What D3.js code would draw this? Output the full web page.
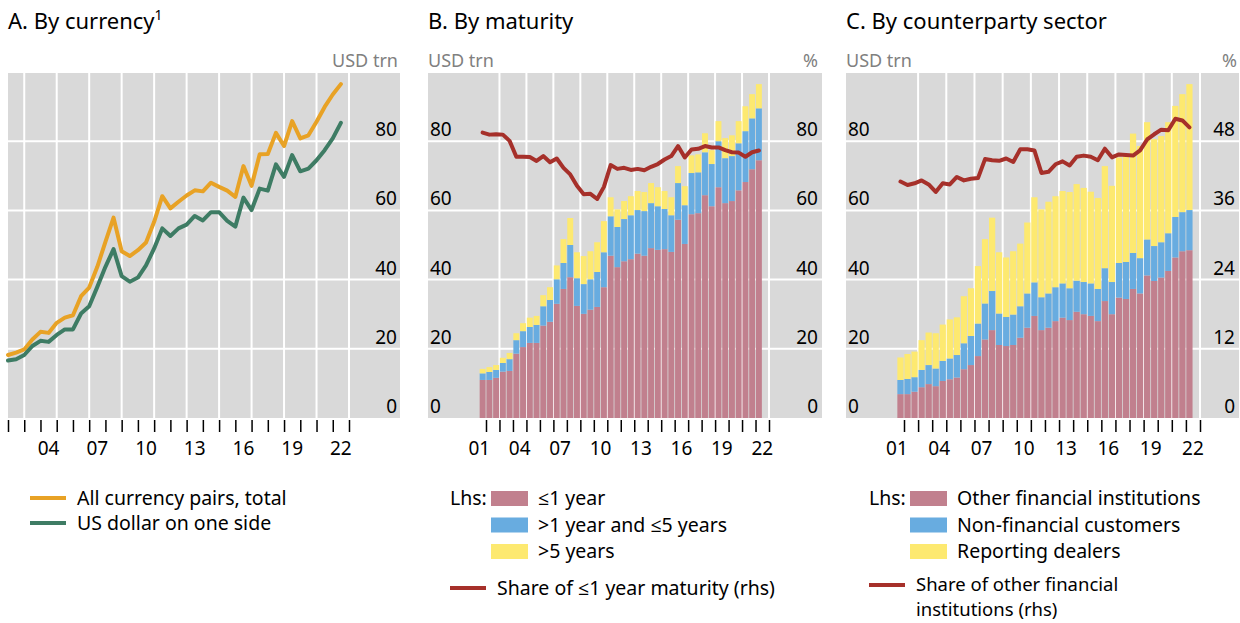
<!DOCTYPE html>
<html>
<head>
<meta charset="utf-8">
<script src="https://cdn.jsdelivr.net/npm/d3@7"></script>
<style>
  body { margin: 0; background: #fff; }
  svg { display: block; font-family: "Noto Sans", "Open Sans", sans-serif; }
  .tick-lbl { font-size: 19px; fill: #000; }
  .unit { font-size: 18px; fill: #808080; }
  .title { font-size: 22px; fill: #000; }
  .leg { font-size: 19.5px; fill: #000; }
</style>
</head>
<body>
<div id="chart"></div>
<script>
// half-yearly survey dates, end-Dec 2001 .. end-Jun 2022
var periods = ["2001-12","2002-06","2002-12","2003-06","2003-12","2004-06","2004-12","2005-06","2005-12","2006-06",
  "2006-12","2007-06","2007-12","2008-06","2008-12","2009-06","2009-12","2010-06","2010-12","2011-06",
  "2011-12","2012-06","2012-12","2013-06","2013-12","2014-06","2014-12","2015-06","2015-12","2016-06",
  "2016-12","2017-06","2017-12","2018-06","2018-12","2019-06","2019-12","2020-06","2020-12","2021-06",
  "2021-12","2022-06"];

// A. by currency, USD trn
var allPairs = [18.2,18.9,19.8,22.7,24.9,24.6,27.5,29.0,29.7,35.2,37.7,43.7,50.9,57.9,48.2,46.8,48.5,50.7,56.7,64.1,
  60.6,62.5,64.3,65.8,65.5,68.0,66.8,65.7,63.9,72.8,67.1,76.2,76.3,82.4,78.6,85.8,80.8,81.7,85.6,89.9,93.5,96.5];
var usdOneSide = [16.6,17.0,18.2,20.8,22.3,22.0,24.0,25.6,25.6,30.2,32.3,37.9,43.7,48.8,41.0,39.4,40.6,44.1,49.0,54.8,
  52.6,54.8,55.9,58.4,57.1,59.5,59.5,57.0,55.3,63.7,60.1,66.3,65.7,73.3,69.7,76.0,71.3,72.1,74.5,77.4,80.8,85.3];

// B. by maturity, USD trn (lhs) and % (rhs)
var matUpTo1 = [11.0,11.0,11.6,13.4,13.6,18.6,20.5,21.7,21.7,26.7,27.8,33.0,37.3,40.7,32.4,30.1,31.3,32.1,37.8,46.9,
  43.6,45.3,45.9,47.5,46.9,49.1,48.6,48.8,48.0,57.3,50.3,58.9,59.2,64.4,61.2,66.7,62.1,62.7,65.8,68.2,71.9,74.5];
var mat1to5 = [1.9,2.3,2.3,2.5,3.4,3.9,4.6,4.6,5.2,5.6,6.3,7.1,7.5,9.3,8.0,8.6,8.8,10.1,10.1,11.4,
  11.6,12.2,12.7,12.6,12.9,13.0,12.6,11.6,10.6,10.6,11.2,11.9,11.8,12.4,12.2,13.3,13.0,13.0,13.6,14.7,14.7,15.0];
var matOver5 = [1.3,1.4,1.4,1.5,1.8,2.0,2.3,2.7,2.6,3.2,3.7,4.0,6.9,7.8,7.5,8.1,8.1,8.6,9.0,5.5,
  5.1,5.2,5.5,5.5,5.5,5.8,5.5,5.2,5.2,4.9,5.5,5.1,5.2,5.5,4.0,5.8,5.8,6.0,6.4,7.2,7.0,7.0];
var shareUpTo1 = [82.5,81.9,82.0,81.9,80.1,75.5,75.5,75.4,74.3,75.7,73.9,75.0,72.3,70.4,67.1,64.7,64.8,63.3,66.8,73.1,
  72.0,72.3,71.7,72.0,71.6,72.6,73.4,74.7,75.7,78.6,75.3,77.6,77.8,78.6,78.2,78.2,77.4,76.8,76.7,75.5,76.8,77.3];

// C. by counterparty sector, USD trn (lhs) and % (rhs)
var cpOtherFin = [6.9,6.9,7.6,8.9,9.8,9.2,10.7,11.2,11.7,14.1,15.3,17.9,22.7,25.4,21.1,20.8,21.1,23.2,26.1,29.5,
  25.4,26.1,28.0,29.0,28.3,30.7,30.0,29.5,28.0,33.8,30.0,34.8,34.4,37.3,36.0,41.2,39.6,40.6,42.5,46.4,48.2,48.5];
var cpNonFin = [4.1,4.4,4.2,5.0,5.5,5.1,5.8,6.0,6.5,7.5,8.4,9.4,10.4,11.3,9.1,8.4,8.8,9.1,9.9,9.7,
  9.5,9.9,9.8,9.9,9.2,9.0,9.3,9.4,9.3,9.5,9.3,10.0,10.7,10.4,10.2,10.4,10.1,10.2,10.9,11.7,11.3,11.6];
var cpDealers = [6.5,7.2,7.4,8.6,9.4,10.2,10.5,11.3,10.9,13.6,13.8,16.6,18.6,21.2,17.7,17.2,18.3,18.1,20.5,24.6,
  25.4,26.5,26.3,26.7,27.8,27.9,27.2,26.5,26.3,29.5,27.8,30.5,30.6,34.5,32.4,33.9,30.9,30.7,32.1,32.1,34.1,36.4];
var shareOtherFin = [41.0,40.4,40.7,41.2,40.5,39.2,40.7,40.5,41.8,41.2,41.5,41.6,44.9,44.7,44.6,45.0,44.4,46.6,46.6,46.4,
  42.5,42.7,44.0,44.5,43.8,45.3,45.5,45.3,44.7,46.7,45.2,45.7,45.6,45.5,46.4,48.3,49.2,50.0,49.9,51.9,51.6,50.4];

var lhsTicks = [0, 20, 40, 60, 80];
var pctTicksB = [0, 20, 40, 60, 80];
var pctTicksC = [0, 12, 24, 36, 48];
var yearLabels = [2001, 2004, 2007, 2010, 2013, 2016, 2019, 2022];

var colPink = "#c1808e", colBlue = "#68ace0", colYellow = "#fde970", colRed = "#a6302a";
var colOrange = "#e8a225", colGreen = "#3e7c64";

var W = 1240, H = 623;
var svg = d3.select("#chart").append("svg").attr("width", W).attr("height", H);

var plotTop = 73, plotBottom = 418;
var y = d3.scaleLinear().domain([0, 100]).range([plotBottom, 72]);

// period end as decimal year
function pEnd(p) {
  var yr = +p.slice(0, 4), m = +p.slice(5, 7);
  return m === 12 ? yr + 1 : yr + 0.5;
}

function panelFrame(cfg) {
  var g = svg.append("g");
  var x = d3.scaleLinear().domain([2002, 2023]).range(cfg.xr);

  g.append("rect").attr("x", cfg.left).attr("y", plotTop)
    .attr("width", cfg.right - cfg.left).attr("height", plotBottom - plotTop)
    .attr("fill", "#d9d9d9");

  // grid
  g.selectAll(".hg").data(lhsTicks.slice(1)).enter().append("line")
    .attr("x1", cfg.left).attr("x2", cfg.right)
    .attr("y1", function(d) { return y(d); }).attr("y2", function(d) { return y(d); })
    .attr("stroke", "#fff").attr("stroke-width", 2);
  g.selectAll(".vg").data(d3.range(2003, 2024, 2)).enter().append("line")
    .attr("x1", function(d) { return x(d); }).attr("x2", function(d) { return x(d); })
    .attr("y1", plotTop).attr("y2", plotBottom)
    .attr("stroke", "#fff").attr("stroke-width", 2);

  // x axis: year ticks, labels centred in the year
  var ax = d3.axisBottom(x).tickValues(d3.range(2002, 2024)).tickSize(12).tickFormat("");
  var axg = g.append("g").attr("transform", "translate(0," + (plotBottom + 2) + ")").call(ax);
  axg.select(".domain").remove();
  axg.selectAll(".tick line").attr("stroke", "#000").attr("stroke-width", 1.5);

  g.selectAll(".xl").data(yearLabels.filter(function(d) { return x(d + 0.5) > cfg.left; }))
    .enter().append("text").attr("class", "tick-lbl")
    .attr("x", function(d) { return x(d + 0.5); }).attr("y", 455)
    .attr("text-anchor", "middle")
    .text(function(d) { return String(d).slice(2); });

  if (cfg.title) g.append("text").attr("class", "title").attr("x", cfg.left).attr("y", 29).text(cfg.title);
  cfg.g = g; cfg.x = x;
  return cfg;
}

function yLabels(g, ticks, xpos, anchor, yOf) {
  g.selectAll(null).data(ticks).enter().append("text").attr("class", "tick-lbl")
    .attr("x", xpos).attr("y", function(d) { return yOf(d) - 5; })
    .attr("text-anchor", anchor).text(function(d) { return d; });
}

function stackBars(p, series, colors) {
  var rows = periods.map(function(per, i) {
    var r = { per: per };
    series.forEach(function(s, j) { r["s" + j] = s[i]; });
    return r;
  });
  var keys = series.map(function(s, j) { return "s" + j; });
  var stacked = d3.stack().keys(keys)(rows);
  var slot = p.x(1) - p.x(0.5);
  p.g.selectAll(null).data(stacked).enter().append("g")
    .attr("fill", function(d, j) { return colors[j]; })
    .selectAll("rect").data(function(d) { return d; }).enter().append("rect")
    .attr("x", function(d) { return p.x(pEnd(d.data.per) - 0.5) + 0.4; })
    .attr("width", slot - 0.8)
    .attr("y", function(d) { return y(d[1]); })
    .attr("height", function(d) { return y(d[0]) - y(d[1]); });
}

function drawLine(p, vals, color, xOf, yScale) {
  var line = d3.line()
    .x(function(d, i) { return xOf(periods[i]); })
    .y(function(d) { return yScale(d); });
  p.g.append("path").datum(vals).attr("d", line)
    .attr("fill", "none").attr("stroke", color).attr("stroke-width", 4)
    .attr("stroke-linejoin", "round").attr("stroke-linecap", "round");
}

// ---- Panel A
var pA = panelFrame({ left: 8, right: 400, xr: [8, 349] });
var tA = pA.g.append("text").attr("class", "title").attr("x", 8).attr("y", 29).text("A. By currency");
tA.append("tspan").attr("dy", -9).attr("font-size", 14).attr("fill", "#000").text("1");
pA.g.append("text").attr("class", "unit").attr("x", 398).attr("y", 67).attr("text-anchor", "end").text("USD trn");
yLabels(pA.g, lhsTicks, 397, "end", y);
drawLine(pA, allPairs, colOrange, function(per) { return pA.x(pEnd(per)); }, y);
drawLine(pA, usdOneSide, colGreen, function(per) { return pA.x(pEnd(per)); }, y);

// ---- Panel B
var pB = panelFrame({ left: 428, right: 822, xr: [486, 769], title: "B. By maturity" });
pB.g.append("text").attr("class", "unit").attr("x", 428).attr("y", 67).text("USD trn");
pB.g.append("text").attr("class", "unit").attr("x", 818).attr("y", 67).attr("text-anchor", "end").text("%");
yLabels(pB.g, lhsTicks, 430, "start", y);
var yPctB = d3.scaleLinear().domain([0, 100]).range(y.range());
yLabels(pB.g, pctTicksB, 818, "end", yPctB);
stackBars(pB, [matUpTo1, mat1to5, matOver5], [colPink, colBlue, colYellow]);
drawLine(pB, shareUpTo1, colRed, function(per) { return pB.x(pEnd(per) - 0.25); }, yPctB);

// ---- Panel C
var pC = panelFrame({ left: 846, right: 1239, xr: [904, 1200], title: "C. By counterparty sector" });
pC.g.append("text").attr("class", "unit").attr("x", 846).attr("y", 67).text("USD trn");
pC.g.append("text").attr("class", "unit").attr("x", 1237).attr("y", 67).attr("text-anchor", "end").text("%");
yLabels(pC.g, lhsTicks, 848, "start", y);
var yPctC = d3.scaleLinear().domain([0, 60]).range(y.range());
yLabels(pC.g, pctTicksC, 1235, "end", yPctC);
stackBars(pC, [cpOtherFin, cpNonFin, cpDealers], [colPink, colBlue, colYellow]);
drawLine(pC, shareOtherFin, colRed, function(per) { return pC.x(pEnd(per) - 0.25); }, yPctC);

// ---- legends
var leg = svg.append("g");
function legLine(x, yy, color, label) {
  leg.append("line").attr("x1", x).attr("x2", x + 36).attr("y1", yy).attr("y2", yy)
    .attr("stroke", color).attr("stroke-width", 4);
  leg.append("text").attr("class", "leg").attr("x", x + 47).attr("y", yy + 6.5).text(label);
}
function legBoxes(x, labels) {
  leg.append("text").attr("class", "leg").attr("x", x).attr("y", 505).text("Lhs:");
  labels.forEach(function(l, i) {
    leg.append("rect").attr("x", x + 41).attr("y", 491 + i * 26.5).attr("width", 37).attr("height", 15)
      .attr("fill", [colPink, colBlue, colYellow][i]);
    leg.append("text").attr("class", "leg").attr("x", x + 88).attr("y", 505 + i * 26.5).text(l);
  });
}
legLine(30, 498, colOrange, "All currency pairs, total");
legLine(30, 523, colGreen, "US dollar on one side");

legBoxes(450, ["≤1 year", ">1 year and ≤5 years", ">5 years"]);
leg.append("line").attr("x1", 450).attr("x2", 486).attr("y1", 588).attr("y2", 588)
  .attr("stroke", colRed).attr("stroke-width", 4);
leg.append("text").attr("class", "leg").attr("x", 497).attr("y", 595).text("Share of ≤1 year maturity (rhs)");

legBoxes(869, ["Other financial institutions", "Non-financial customers", "Reporting dealers"]);
leg.append("line").attr("x1", 869).attr("x2", 905).attr("y1", 585).attr("y2", 585)
  .attr("stroke", colRed).attr("stroke-width", 4);
// two-line label, slightly tighter type so the lines fit above the bottom edge
leg.append("text").attr("class", "leg").attr("x", 916).attr("y", 590.5)
  .style("font-size", "18.5px").text("Share of other financial");
leg.append("text").attr("class", "leg").attr("x", 916).attr("y", 616)
  .style("font-size", "18.5px").text("institutions (rhs)");
</script>
</body>
</html>
